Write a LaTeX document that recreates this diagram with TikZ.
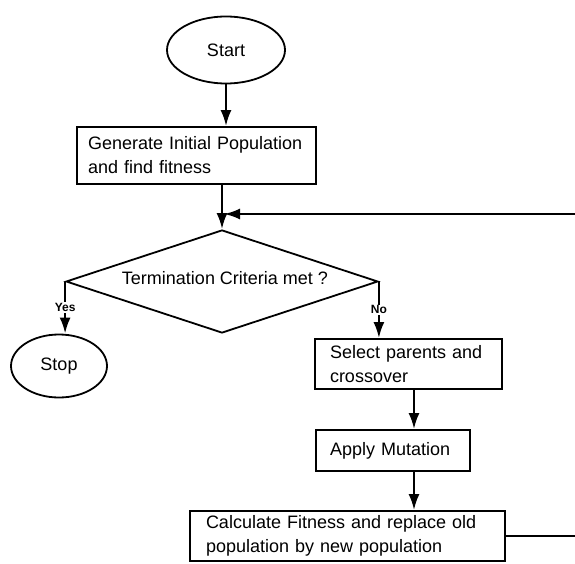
\documentclass[tikz,border=0pt]{standalone}
\usepackage{fontspec}
\setmainfont{Liberation Sans}
\usetikzlibrary{shapes.geometric,arrows.meta}

\begin{document}
\begin{tikzpicture}[x=1pt, y=-1pt,
        font=\fontsize{18}{24}\selectfont,
        arr/.style={line width=2.4pt, -{Latex[length=16pt,width=11pt]}},
        procbox/.style={draw, line width=1.8pt, align=left},
        oval/.style={draw, ellipse, line width=1.8pt},
        choice/.style={font=\bfseries\fontsize{12}{13}\selectfont, fill=white, inner sep=1pt}]
        \useasboundingbox (0,0) rectangle (575,564);
        \node[oval, minimum width=118, minimum height=67] (start) at (226,50) {Start};
        \node[procbox, inner xsep=11, text width=217, minimum height=57] (gen) at (196.5,155.5)
                {Generate Initial Population\\and find fitness};
        \node[draw, diamond, line width=1.8pt, minimum width=312, minimum height=103, inner sep=0pt] (test) at (222,281.5) {};
        \node at (225,278) {Termination Criteria met ?};
        \node[oval, minimum width=96, minimum height=63] (stop) at (59,366) {Stop};
        \node[procbox, inner xsep=15, text width=157, minimum height=50] (select) at (408.5,364)
                {Select parents and\\crossover};
        \node[procbox, inner xsep=14, text width=126, minimum height=41] (mutate) at (393,450.5) {Apply Mutation};
        \node[procbox, inner xsep=16, text width=283, minimum height=50] (calc) at (347.5,536)
                {Calculate Fitness and replace old\\population by new population};
        \coordinate (down) at (414,0);
        \coordinate (loopin) at (575,214);
        \coordinate (loopout) at (575,536);
        \draw[arr] (start.south) -- (start.south |- gen.north);
        \draw[arr] (gen.south -| test.north) -- (test.north);
        \draw[arr] (loopin) -- ([xshift=2]loopin -| test.north);
        \draw[arr] (test.west) -- node[choice] {Yes} (test.west |- stop.north);
        \draw[arr] (test.east) -- node[choice] {No} (test.east |- select.north);
        \draw[arr] (select.south -| down) -- (mutate.north -| down);
        \draw[arr] (mutate.south -| down) -- (calc.north -| down);
        \draw[line width=2.4pt] (calc.east) -- (loopout);
      \end{tikzpicture}
\end{document}
